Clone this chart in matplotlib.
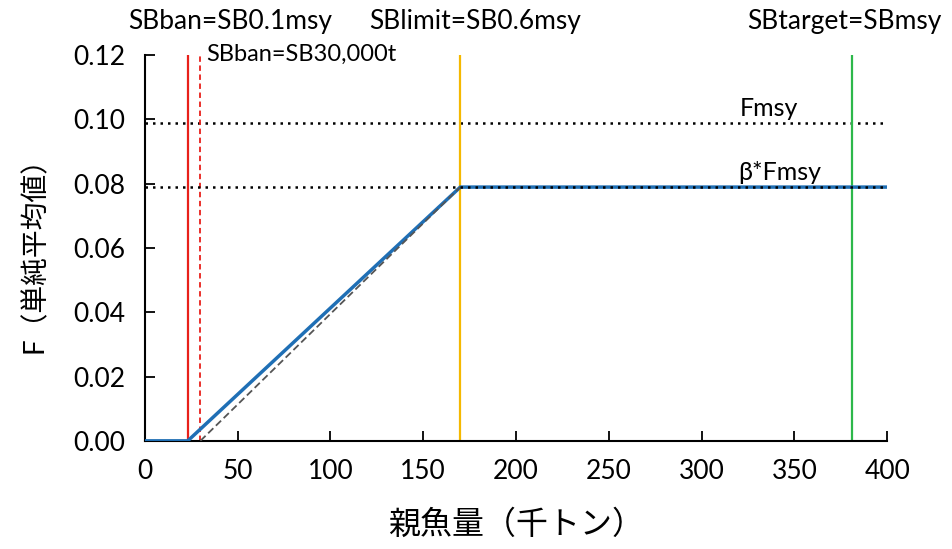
import matplotlib.pyplot as plt
import numpy as np

plt.rcParams['font.family'] = ['Lato', 'Noto Sans CJK JP', 'DejaVu Sans']

# reference points (thousand tons) and F levels
sb_ban = 23.2
sb_ban_30 = 30
sb_limit = 170
sb_target = 381
f_msy = 0.0988
beta_f_msy = 0.0789

# harvest control rule
hcr_x = [0, sb_ban, sb_limit, 400]
hcr_y = [0, 0, beta_f_msy, beta_f_msy]
# rule with the 30,000 t ban point
alt_x = [sb_ban_30, sb_limit]
alt_y = [0, beta_f_msy]

fig = plt.figure(figsize=(9.52, 5.49), dpi=100)
ax = fig.add_axes([0.152, 0.197, 0.780, 0.703])

ax.plot(hcr_x, hcr_y, color='#1f6fb5', lw=2.5, zorder=3)
ax.plot(alt_x, alt_y, color='#555555', lw=1.3, ls=(0, (4, 2)), zorder=4)

ax.axhline(f_msy, color='black', lw=1.8, ls=(0, (1, 2)), xmin=0.0, xmax=0.995)
ax.axhline(beta_f_msy, color='black', lw=1.8, ls=(0, (1, 2)), xmin=0.0, xmax=0.995, zorder=5)

ax.axvline(sb_ban, color='#e8201a', lw=1.6)
ax.axvline(sb_ban_30, color='#e8201a', lw=1.3, ls=(0, (3, 2)))
ax.axvline(sb_limit, color='#f5b800', lw=1.6)
ax.axvline(sb_target, color='#2db84a', lw=1.6)

ax.set_xlim(0, 400)
ax.set_ylim(0, 0.12)
ax.set_xticks(np.arange(0, 401, 50))
ax.set_yticks(np.arange(0, 0.121, 0.02))
ax.set_yticklabels(['%.2f' % v for v in np.arange(0, 0.121, 0.02)])
ax.tick_params(direction='in', labelsize=19, length=7, width=1.3)
ax.tick_params(axis='x', pad=13)
ax.tick_params(axis='y', pad=14)
for s in ['top', 'right']:
    ax.spines[s].set_visible(False)
for s in ['left', 'bottom']:
    ax.spines[s].set_linewidth(1.5)

ax.set_xlabel('親魚量（千トン）', fontsize=23, labelpad=18)
ax.set_ylabel('F（単純平均値）', fontsize=20, labelpad=18)

# reference point labels above the plot
ax.text(46, 0.1265, 'SBban=SB0.1msy', fontsize=19, ha='center', va='bottom')
ax.text(178, 0.1265, 'SBlimit=SB0.6msy', fontsize=19, ha='center', va='bottom')
ax.text(377, 0.1265, 'SBtarget=SBmsy', fontsize=19, ha='center', va='bottom')
ax.text(sb_ban_30 + 3, 0.1235, 'SBban=SB30,000t', fontsize=17, ha='left', va='top')
ax.text(336, f_msy + 0.001, 'Fmsy', fontsize=18, ha='center', va='bottom')
ax.text(342, beta_f_msy + 0.001, 'β*Fmsy', fontsize=18, ha='center', va='bottom')

fig.savefig('out.png')
